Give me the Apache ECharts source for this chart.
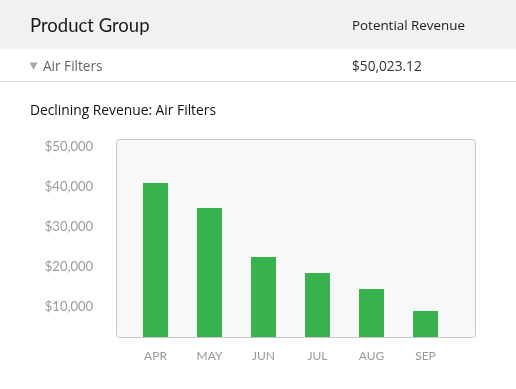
<!DOCTYPE html>
<html>
<head>
<meta charset="utf-8">
<script src="https://cdn.jsdelivr.net/npm/echarts@6/dist/echarts.min.js"></script>
<style>
html,body{margin:0;padding:0;background:#fff;}
#chart{width:516px;height:389px;}
</style>
</head>
<body>
<div id="chart"></div>
<script>
const categories = ['APR', 'MAY', 'JUN', 'JUL', 'AUG', 'SEP'];
const revenue = [38500, 32250, 20000, 16000, 12000, 6500];
const yTicks = [0, 10000, 20000, 30000, 40000, 50000];
const headerLeft = 'Product Group';
const headerRight = 'Potential Revenue';
const rowName = 'Air Filters';
const rowValue = '$50,023.12';
const chartTitle = 'Declining Revenue: Air Filters';

const FONT = 'Lato, "Open Sans", sans-serif';
const FONT2 = '"Open Sans", Lato, sans-serif';
const chart = echarts.init(document.getElementById('chart'), null, {renderer: 'canvas'});
chart.setOption({
  animation: false,
  backgroundColor: '#ffffff',
  graphic: [
    {type: 'rect', shape: {x: 0, y: 0, width: 516, height: 49}, style: {fill: '#f1f1f1'}, z: 0},
    {type: 'text', x: 30, y: 26, style: {text: headerLeft, font: '18.5px ' + FONT, fill: '#1a1a1a', textVerticalAlign: 'middle'}, z: 1},
    {type: 'text', x: 352, y: 26, style: {text: headerRight, font: '13.4px ' + FONT2, fill: '#1a1a1a', textVerticalAlign: 'middle'}, z: 1},
    {type: 'polygon', shape: {points: [[29.5, 62.5], [37.5, 62.5], [33.5, 70]]}, style: {fill: '#a8a8a8'}, z: 1},
    {type: 'text', x: 43, y: 67, style: {text: rowName, font: '13.6px ' + FONT2, fill: '#666666', textVerticalAlign: 'middle'}, z: 1},
    {type: 'text', x: 352, y: 67, style: {text: rowValue, font: '13.7px ' + FONT2, fill: '#333333', textVerticalAlign: 'middle'}, z: 1},
    {type: 'rect', shape: {x: 0, y: 81, width: 516, height: 1}, style: {fill: '#dcdcdc'}, z: 1},
    {type: 'text', x: 30, y: 111, style: {text: chartTitle, font: '13.8px ' + FONT2, fill: '#111111', textVerticalAlign: 'middle'}, z: 1},
    {type: 'rect', shape: {x: 116.5, y: 139.5, width: 359, height: 198, r: 3}, style: {fill: '#f8f8f8', stroke: '#c6c6c6', lineWidth: 1}, z: 0}
  ],
  grid: {left: 128.5, right: 63.5, top: 137, bottom: 52, show: false},
  xAxis: {
    type: 'category',
    data: categories,
    axisLine: {show: false},
    axisTick: {show: false},
    axisLabel: {color: '#999999', fontSize: 12, fontFamily: FONT, margin: 13}
  },
  yAxis: {
    type: 'value',
    min: yTicks[0],
    max: yTicks[yTicks.length - 1],
    interval: yTicks[1] - yTicks[0],
    splitLine: {show: false},
    axisLine: {show: false},
    axisTick: {show: false},
    axisLabel: {
      color: '#9a9a9a', fontSize: 13, fontFamily: FONT, margin: 35.5,
      formatter: v => v === 0 ? '' : '{a|$' + v.toLocaleString('en-US') + '}',
      rich: {a: {color: '#9a9a9a', fontSize: 13, fontFamily: FONT, padding: [20, 0, 0, 0]}}
    }
  },
  series: [{
    type: 'bar',
    data: revenue,
    barWidth: 25,
    itemStyle: {color: '#38b14f'},
    z: 5
  }]
});
</script>
</body>
</html>
